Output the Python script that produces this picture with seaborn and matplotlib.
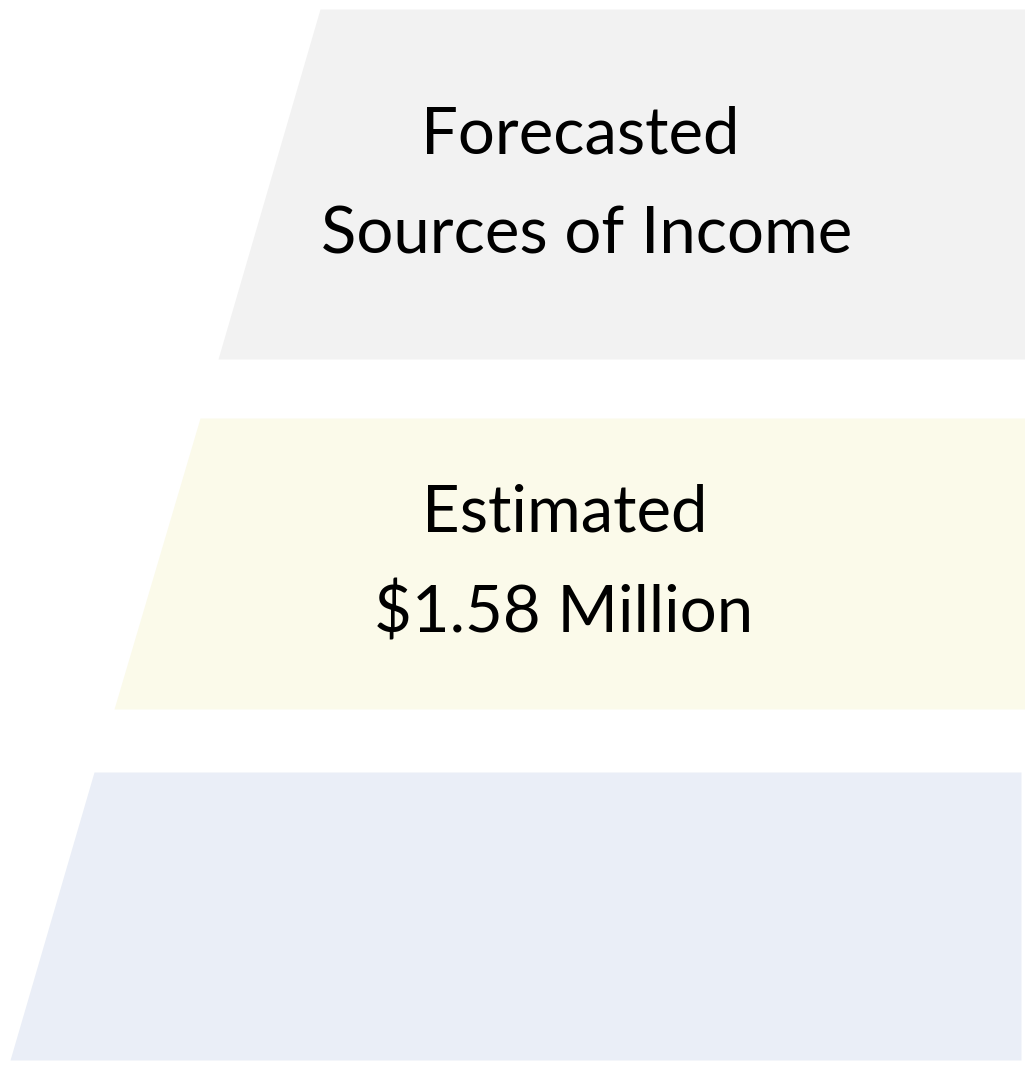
import matplotlib
matplotlib.use("Agg")
import matplotlib.pyplot as plt
import seaborn as sns
import pandas as pd

# tier geometry (pixel-like units, y grows downward)
tiers = ["income_sources", "estimate", "base"]
tier_top = [9, 418, 772]
tier_bottom = [359, 709, 1060]
tier_left_top = [320, 200, 94]
tier_left_bottom = [218, 114, 10]
tier_right = [1025, 1025, 1021]
tier_colors = ["#F2F2F2", "#FBFAEA", "#EAEEF7"]

# text lines
text_lines = ["Forecasted", "Sources of Income", "Estimated", "$1.58 Million"]
text_tier = ["income_sources", "income_sources", "estimate", "estimate"]
text_x = [580, 587, 565, 564]
text_baseline = [154, 253, 532, 633]


def main():
    sns.set_theme(style="white")
    plt.rcParams["font.family"] = ["Lato", "DejaVu Sans"]

    df = pd.DataFrame({
        "tier": tiers, "top": tier_top, "bottom": tier_bottom,
        "left_top": tier_left_top, "left_bottom": tier_left_bottom,
        "right": tier_right, "color": tier_colors,
    })
    labels = pd.DataFrame({"text": text_lines, "tier": text_tier,
                           "x": text_x, "y": text_baseline})

    fig = plt.figure(figsize=(10.25, 10.67), dpi=100)
    ax = fig.add_axes([0, 0, 1, 1])
    for _, r in df.iterrows():
        ax.fill_betweenx([r["top"], r["bottom"]],
                         [r["left_top"], r["left_bottom"]],
                         [r["right"], r["right"]],
                         color=r["color"], linewidth=0)
    for _, t in labels.iterrows():
        ax.text(t["x"], t["y"], t["text"], ha="center", va="baseline",
                fontsize=47, color="black")

    ax.set_xlim(0, 1025)
    ax.set_ylim(1067, 0)
    ax.axis("off")
    fig.savefig("out.png", dpi=100, facecolor="white")


if __name__ == "__main__":
    main()
